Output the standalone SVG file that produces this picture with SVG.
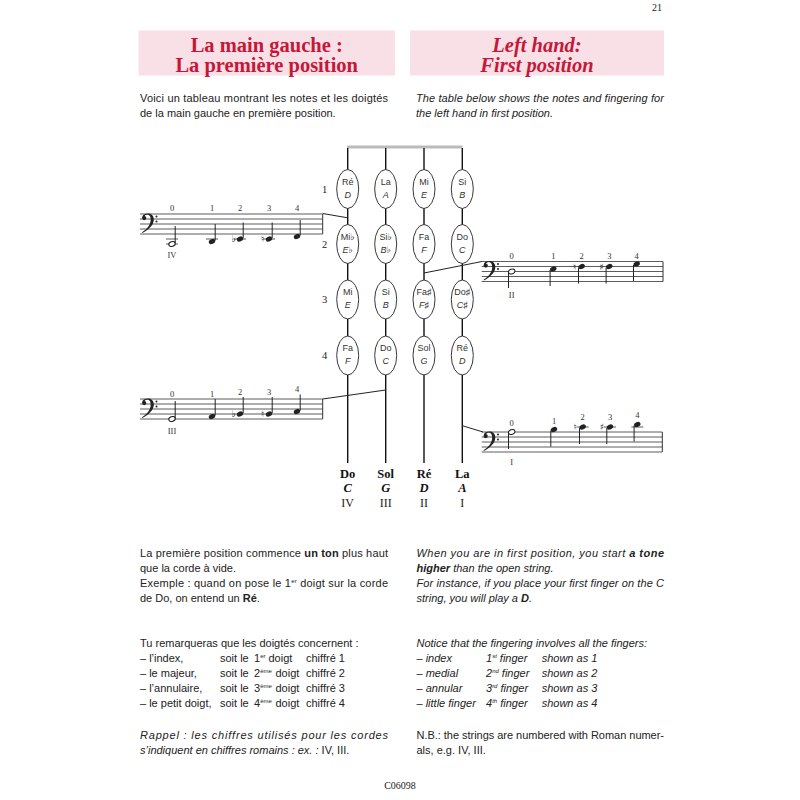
<svg xmlns="http://www.w3.org/2000/svg" xmlns:xlink="http://www.w3.org/1999/xlink" width="800" height="800" viewBox="0 0 800 800">
<style>
.box{fill:#f9e0e6}
.title{font-family:"Liberation Serif",serif;font-weight:bold;font-size:20.5px;fill:#c6173a;text-anchor:middle}
.ti{font-style:italic}
.body{font-family:"Liberation Sans","DejaVu Sans",sans-serif;font-size:11px;fill:#222}
.it{font-style:italic}
.b{font-weight:bold}
.sup{font-size:6px}
.serif{font-family:"Liberation Serif","DejaVu Serif",serif;fill:#222}
.num{font-family:"Liberation Serif",serif;font-size:8.5px;fill:#333;text-anchor:middle}
.rom{font-family:"Liberation Serif",serif;font-size:8.5px;fill:#333;text-anchor:middle}
.staff line{stroke:#333;stroke-width:0.8}
.bar{stroke:#333;stroke-width:1}
.stem{stroke:#222;stroke-width:1}
.ledger{stroke:#333;stroke-width:0.8}
.head{fill:#222}
.half{fill:#fff;stroke:#222;stroke-width:1.1}
.acc{font-family:"DejaVu Sans",sans-serif;font-size:9px;fill:#222;text-anchor:middle}
.string{stroke:#111;stroke-width:1.4}
.oval{fill:#fff;stroke:#222;stroke-width:0.9}
.fr{font-family:"Liberation Sans","DejaVu Sans",sans-serif;font-size:9px;fill:#333;text-anchor:middle}
.en{font-family:"Liberation Sans","DejaVu Sans",sans-serif;font-size:9px;font-style:italic;fill:#333;text-anchor:middle}
.row{font-family:"Liberation Serif",serif;font-size:10.5px;fill:#222;text-anchor:middle}
.sname{font-family:"Liberation Serif",serif;font-size:12.5px;font-weight:bold;fill:#111;text-anchor:middle}
.conn{stroke:#222;stroke-width:1;fill:none}
</style>
<defs>
<g id="bass">
<path d="M3.2,5.6 C0.4,5.6 0.2,1.8 2.5,0.5 C4,-0.5 6,-0.8 7.5,-0.5 C11,0.2 12.5,3 12.3,6 C12,11 7.5,15.5 0.8,19 L0.5,18.3 C5.5,15 9.2,11 9.2,5.5 C9.2,2.5 8,0.4 6,0.4 C4.5,0.4 3.3,1.3 3,2.5 Z" fill="#222"/>
<circle cx="2.7" cy="4.1" r="2.1" fill="#222"/>
<circle cx="15" cy="2.5" r="1" fill="#222"/>
<circle cx="15" cy="7.5" r="1" fill="#222"/>
</g>
<ellipse id="nh" cx="0" cy="0" rx="3.3" ry="2.4" transform="rotate(-20)"/>
</defs>
<rect width="800" height="800" fill="#fff"/>

<text x="657" y="11" class="serif" font-size="10" text-anchor="middle">21</text>

<g id="header-fr">
<rect class="box" x="138.5" y="30.5" width="256.5" height="45"/>
<text class="title" x="266.7" y="52">La main gauche :</text>
<text class="title" x="266.7" y="72">La première position</text>
</g>
<g id="header-en">
<rect class="box" x="410" y="30.5" width="254" height="45"/>
<text class="title ti" x="537" y="52">Left hand:</text>
<text class="title ti" x="537" y="72">First position</text>
</g>

<g id="intro-fr" class="body">
<text x="140" y="101.5" textLength="248" lengthAdjust="spacing">Voici un tableau montrant les notes et les doigtés</text>
<text x="140" y="116.5">de la main gauche en première position.</text>
</g>
<g id="intro-en" class="body it">
<text x="416" y="101.5" textLength="248" lengthAdjust="spacing">The table below shows the notes and fingering for</text>
<text x="416" y="116.5">the left hand in first position.</text>
</g>

<g id="fingerboard">
<rect x="347" y="145.5" width="115.5" height="3" fill="#bbb"/>
<g id="strings">
<line class="string" x1="347.7" y1="148" x2="347.7" y2="463"/>
<line class="string" x1="385.7" y1="148" x2="385.7" y2="463"/>
<line class="string" x1="424" y1="148" x2="424" y2="463"/>
<line class="string" x1="462.3" y1="148" x2="462.3" y2="463"/>
</g>
<g id="row-labels">
<text class="row" x="324.5" y="192.5">1</text>
<text class="row" x="324.5" y="247.5">2</text>
<text class="row" x="324.5" y="303">3</text>
<text class="row" x="324.5" y="359">4</text>
</g>
<g id="r1c1"><ellipse class="oval" cx="347.7" cy="189" rx="11" ry="19.5"/><text class="fr" x="347.7" y="184.5">Ré</text><text class="en" x="347.7" y="197.5">D</text></g>
<g id="r1c2"><ellipse class="oval" cx="385.7" cy="189" rx="11" ry="19.5"/><text class="fr" x="385.7" y="184.5">La</text><text class="en" x="385.7" y="197.5">A</text></g>
<g id="r1c3"><ellipse class="oval" cx="424" cy="189" rx="11" ry="19.5"/><text class="fr" x="424" y="184.5">Mi</text><text class="en" x="424" y="197.5">E</text></g>
<g id="r1c4"><ellipse class="oval" cx="462.3" cy="189" rx="11" ry="19.5"/><text class="fr" x="462.3" y="184.5">Si</text><text class="en" x="462.3" y="197.5">B</text></g>

<g id="r2c1"><ellipse class="oval" cx="347.7" cy="244" rx="11" ry="19.5"/><text class="fr" x="347.7" y="239.5">Mi♭</text><text class="en" x="347.7" y="252.5">E♭</text></g>
<g id="r2c2"><ellipse class="oval" cx="385.7" cy="244" rx="11" ry="19.5"/><text class="fr" x="385.7" y="239.5">Si♭</text><text class="en" x="385.7" y="252.5">B♭</text></g>
<g id="r2c3"><ellipse class="oval" cx="424" cy="244" rx="11" ry="19.5"/><text class="fr" x="424" y="239.5">Fa</text><text class="en" x="424" y="252.5">F</text></g>
<g id="r2c4"><ellipse class="oval" cx="462.3" cy="244" rx="11" ry="19.5"/><text class="fr" x="462.3" y="239.5">Do</text><text class="en" x="462.3" y="252.5">C</text></g>

<g id="r3c1"><ellipse class="oval" cx="347.7" cy="299.5" rx="11" ry="19.5"/><text class="fr" x="347.7" y="295">Mi</text><text class="en" x="347.7" y="308">E</text></g>
<g id="r3c2"><ellipse class="oval" cx="385.7" cy="299.5" rx="11" ry="19.5"/><text class="fr" x="385.7" y="295">Si</text><text class="en" x="385.7" y="308">B</text></g>
<g id="r3c3"><ellipse class="oval" cx="424" cy="299.5" rx="11" ry="19.5"/><text class="fr" x="424" y="295">Fa♯</text><text class="en" x="424" y="308">F♯</text></g>
<g id="r3c4"><ellipse class="oval" cx="462.3" cy="299.5" rx="11" ry="19.5"/><text class="fr" x="462.3" y="295">Do♯</text><text class="en" x="462.3" y="308">C♯</text></g>

<g id="r4c1"><ellipse class="oval" cx="347.7" cy="355.5" rx="11" ry="19.5"/><text class="fr" x="347.7" y="351">Fa</text><text class="en" x="347.7" y="364">F</text></g>
<g id="r4c2"><ellipse class="oval" cx="385.7" cy="355.5" rx="11" ry="19.5"/><text class="fr" x="385.7" y="351">Do</text><text class="en" x="385.7" y="364">C</text></g>
<g id="r4c3"><ellipse class="oval" cx="424" cy="355.5" rx="11" ry="19.5"/><text class="fr" x="424" y="351">Sol</text><text class="en" x="424" y="364">G</text></g>
<g id="r4c4"><ellipse class="oval" cx="462.3" cy="355.5" rx="11" ry="19.5"/><text class="fr" x="462.3" y="351">Ré</text><text class="en" x="462.3" y="364">D</text></g>

<g id="string-names">
<text class="sname" x="347.7" y="478">Do</text>
<text class="sname" x="385.7" y="478">Sol</text>
<text class="sname" x="424" y="478">Ré</text>
<text class="sname" x="462.3" y="478">La</text>
<text class="sname" x="347.7" y="492" font-style="italic">C</text>
<text class="sname" x="385.7" y="492" font-style="italic">G</text>
<text class="sname" x="424" y="492" font-style="italic">D</text>
<text class="sname" x="462.3" y="492" font-style="italic">A</text>
<text class="serif" x="347.7" y="506.5" font-size="12" text-anchor="middle">IV</text>
<text class="serif" x="385.7" y="506.5" font-size="12" text-anchor="middle">III</text>
<text class="serif" x="424" y="506.5" font-size="12" text-anchor="middle">II</text>
<text class="serif" x="462.3" y="506.5" font-size="12" text-anchor="middle">I</text>
</g>
</g>

<g id="connectors">
<line class="conn" x1="322.7" y1="213.5" x2="347.7" y2="217.8"/>
<line class="conn" x1="322.7" y1="399" x2="385.7" y2="390"/>
<line class="conn" x1="424" y1="273" x2="482" y2="261.5"/>
<line class="conn" x1="462.3" y1="425.7" x2="483" y2="432"/>
</g>

<g id="staff-IV">
<g class="staff"><line x1="140" y1="214" x2="322.7" y2="214"/><line x1="140" y1="219" x2="322.7" y2="219"/><line x1="140" y1="224" x2="322.7" y2="224"/><line x1="140" y1="229" x2="322.7" y2="229"/><line x1="140" y1="234" x2="322.7" y2="234"/></g>
<line class="bar" x1="322.7" y1="214" x2="322.7" y2="234"/>
<use href="#bass" transform="translate(141.5,214)"/>
<line class="ledger" x1="166" y1="239" x2="178" y2="239"/><line class="ledger" x1="166" y1="244" x2="178" y2="244"/>
<line class="ledger" x1="206" y1="239" x2="218" y2="239"/>
<line class="ledger" x1="234" y1="239" x2="246" y2="239"/>
<line class="ledger" x1="263" y1="239" x2="275" y2="239"/>
<use href="#nh" class="half" transform="translate(172,244)"/><line class="stem" x1="175.2" y1="243" x2="175.2" y2="226"/>
<use href="#nh" class="head" transform="translate(212,241.5)"/><line class="stem" x1="215.2" y1="240.5" x2="215.2" y2="224"/>
<text class="acc" x="233.5" y="241.5">♭</text><use href="#nh" class="head" transform="translate(240,239)"/><line class="stem" x1="243.2" y1="238" x2="243.2" y2="222.5"/>
<text class="acc" x="262.5" y="242">♮</text><use href="#nh" class="head" transform="translate(269,239)"/><line class="stem" x1="272.2" y1="238" x2="272.2" y2="222.5"/>
<use href="#nh" class="head" transform="translate(297,236.5)"/><line class="stem" x1="300.2" y1="235.5" x2="300.2" y2="220"/>
<text class="num" x="172" y="211">0</text><text class="num" x="212" y="211">1</text><text class="num" x="240" y="211">2</text><text class="num" x="269" y="211">3</text><text class="num" x="297" y="211">4</text>
<text class="rom" x="172" y="258">IV</text>
</g>

<g id="staff-III">
<g class="staff"><line x1="140" y1="399" x2="322.7" y2="399"/><line x1="140" y1="404" x2="322.7" y2="404"/><line x1="140" y1="409" x2="322.7" y2="409"/><line x1="140" y1="414" x2="322.7" y2="414"/><line x1="140" y1="419" x2="322.7" y2="419"/></g>
<line class="bar" x1="322.7" y1="399" x2="322.7" y2="419"/>
<use href="#bass" transform="translate(141.5,399)"/>
<use href="#nh" class="half" transform="translate(172,419)"/><line class="stem" x1="175.2" y1="418" x2="175.2" y2="401"/>
<use href="#nh" class="head" transform="translate(212,416.5)"/><line class="stem" x1="215.2" y1="415.5" x2="215.2" y2="399"/>
<text class="acc" x="233.5" y="416.5">♭</text><use href="#nh" class="head" transform="translate(240,414)"/><line class="stem" x1="243.2" y1="413" x2="243.2" y2="397"/>
<text class="acc" x="262.5" y="417">♮</text><use href="#nh" class="head" transform="translate(269,414)"/><line class="stem" x1="272.2" y1="413" x2="272.2" y2="397"/>
<use href="#nh" class="head" transform="translate(297,411.5)"/><line class="stem" x1="300.2" y1="410.5" x2="300.2" y2="394.5"/>
<text class="num" x="172" y="396.5">0</text><text class="num" x="212" y="396.5">1</text><text class="num" x="240" y="394.5">2</text><text class="num" x="269" y="394.5">3</text><text class="num" x="297" y="392">4</text>
<text class="rom" x="172" y="434">III</text>
</g>

<g id="staff-II">
<g class="staff"><line x1="481.7" y1="261.5" x2="663" y2="261.5"/><line x1="481.7" y1="266.5" x2="663" y2="266.5"/><line x1="481.7" y1="271.5" x2="663" y2="271.5"/><line x1="481.7" y1="276.5" x2="663" y2="276.5"/><line x1="481.7" y1="281.5" x2="663" y2="281.5"/></g>
<line class="bar" x1="663" y1="261.5" x2="663" y2="281.5"/>
<use href="#bass" transform="translate(483,261.5)"/>
<use href="#nh" class="half" transform="translate(511.7,271.5)"/><line class="stem" x1="508.5" y1="272.5" x2="508.5" y2="288"/>
<use href="#nh" class="head" transform="translate(553.3,269)"/><line class="stem" x1="550.1" y1="270" x2="550.1" y2="286"/>
<text class="acc" x="574.5" y="269.5">♮</text><use href="#nh" class="head" transform="translate(581.7,266.5)"/><line class="stem" x1="578.5" y1="267.5" x2="578.5" y2="283.5"/>
<text class="acc" x="601.5" y="269.5">♯</text><use href="#nh" class="head" transform="translate(609.3,266.5)"/><line class="stem" x1="606.1" y1="267.5" x2="606.1" y2="283.5"/>
<use href="#nh" class="head" transform="translate(636.7,264)"/><line class="stem" x1="633.5" y1="265" x2="633.5" y2="281"/>
<text class="num" x="511.7" y="259">0</text><text class="num" x="553.3" y="259">1</text><text class="num" x="581.7" y="259">2</text><text class="num" x="609.3" y="259">3</text><text class="num" x="636.7" y="259">4</text>
<text class="rom" x="511.7" y="298">II</text>
</g>

<g id="staff-I">
<g class="staff"><line x1="481.7" y1="432" x2="662.3" y2="432"/><line x1="481.7" y1="437" x2="662.3" y2="437"/><line x1="481.7" y1="442" x2="662.3" y2="442"/><line x1="481.7" y1="447" x2="662.3" y2="447"/><line x1="481.7" y1="452" x2="662.3" y2="452"/></g>
<line class="bar" x1="662.3" y1="432" x2="662.3" y2="452"/>
<use href="#bass" transform="translate(483,432)"/>
<line class="ledger" x1="576.7" y1="427" x2="588.7" y2="427"/>
<line class="ledger" x1="604" y1="427" x2="616" y2="427"/>
<line class="ledger" x1="631.3" y1="427" x2="643.3" y2="427"/>
<use href="#nh" class="half" transform="translate(511.7,432)"/><line class="stem" x1="508.5" y1="433" x2="508.5" y2="449"/>
<use href="#nh" class="head" transform="translate(554,429.5)"/><line class="stem" x1="550.8" y1="430.5" x2="550.8" y2="446.5"/>
<text class="acc" x="575" y="430">♮</text><use href="#nh" class="head" transform="translate(582.7,427)"/><line class="stem" x1="579.5" y1="428" x2="579.5" y2="444"/>
<text class="acc" x="602" y="430">♯</text><use href="#nh" class="head" transform="translate(610,427)"/><line class="stem" x1="606.8" y1="428" x2="606.8" y2="444"/>
<use href="#nh" class="head" transform="translate(637.3,424.5)"/><line class="stem" x1="634.1" y1="425.5" x2="634.1" y2="441.5"/>
<text class="num" x="511.7" y="426">0</text><text class="num" x="554" y="423.5">1</text><text class="num" x="582.7" y="420">2</text><text class="num" x="610" y="420">3</text><text class="num" x="637.3" y="418">4</text>
<text class="rom" x="511.7" y="465">I</text>
</g>

<g id="text-fr" class="body">
<text x="140" y="556.7" textLength="248" lengthAdjust="spacing">La première position commence <tspan class="b">un ton</tspan> plus haut</text>
<text x="140" y="571.7">que la corde à vide.</text>
<text x="140" y="586.7" textLength="248" lengthAdjust="spacing">Exemple : quand on pose le 1<tspan class="sup" dy="-4">er</tspan><tspan dy="4"> doigt sur la corde</tspan></text>
<text x="140" y="602">de Do, on entend un <tspan class="b">Ré</tspan>.</text>
<text x="140" y="647.3">Tu remarqueras que les doigtés concernent :</text>
<text x="140" y="662.3">– l’index,</text>
<text x="140" y="677.3">– le majeur,</text>
<text x="140" y="692.3">– l’annulaire,</text>
<text x="140" y="707.3">– le petit doigt,</text>
<text x="220" y="662.3">soit le</text>
<text x="220" y="677.3">soit le</text>
<text x="220" y="692.3">soit le</text>
<text x="220" y="707.3">soit le</text>
<text x="254" y="662.3">1<tspan class="sup" dy="-4">er</tspan></text>
<text x="254" y="677.3">2<tspan class="sup" dy="-4">ème</tspan></text>
<text x="254" y="692.3">3<tspan class="sup" dy="-4">ème</tspan></text>
<text x="254" y="707.3">4<tspan class="sup" dy="-4">ème</tspan></text>
<text x="268.5" y="662.3">doigt</text>
<text x="275.5" y="677.3">doigt</text>
<text x="275.5" y="692.3">doigt</text>
<text x="275.5" y="707.3">doigt</text>
<text x="306" y="662.3">chiffré 1</text>
<text x="306" y="677.3">chiffré 2</text>
<text x="306" y="692.3">chiffré 3</text>
<text x="306" y="707.3">chiffré 4</text>
<text x="140" y="739" textLength="248" lengthAdjust="spacing"><tspan class="it">Rappel : les chiffres utilisés pour les cordes</tspan></text>
<text x="140" y="754"><tspan class="it">s’indiquent en chiffres romains : ex. : </tspan>IV, III.</text>
</g>

<g id="text-en" class="body">
<text x="416.5" y="556.7" class="it" textLength="247.5" lengthAdjust="spacing">When you are in first position, you start <tspan class="b">a tone</tspan></text>
<text x="416.5" y="571.7" class="it"><tspan class="b">higher</tspan> than the open string.</text>
<text x="416.5" y="586.7" class="it" textLength="247.5" lengthAdjust="spacing">For instance, if you place your first finger on the C</text>
<text x="416.5" y="602" class="it">string, you will play a <tspan class="b">D</tspan>.</text>
<text x="416.5" y="647.3" class="it">Notice that the fingering involves all the fingers:</text>
<text x="416.5" y="662.3" class="it">– index</text>
<text x="416.5" y="677.3" class="it">– medial</text>
<text x="416.5" y="692.3" class="it">– annular</text>
<text x="416.5" y="707.3" class="it">– little finger</text>
<text x="486" y="662.3" class="it">1<tspan class="sup" dy="-4">st</tspan><tspan dy="4"> finger</tspan></text>
<text x="486" y="677.3" class="it">2<tspan class="sup" dy="-4">nd</tspan><tspan dy="4"> finger</tspan></text>
<text x="486" y="692.3" class="it">3<tspan class="sup" dy="-4">rd</tspan><tspan dy="4"> finger</tspan></text>
<text x="486" y="707.3" class="it">4<tspan class="sup" dy="-4">th</tspan><tspan dy="4"> finger</tspan></text>
<text x="541.7" y="662.3" class="it">shown as 1</text>
<text x="541.7" y="677.3" class="it">shown as 2</text>
<text x="541.7" y="692.3" class="it">shown as 3</text>
<text x="541.7" y="707.3" class="it">shown as 4</text>
<text x="416.5" y="739" textLength="247.5" lengthAdjust="spacing">N.B.: the strings are numbered with Roman numer-</text>
<text x="416.5" y="754">als, e.g. IV, III.</text>
</g>

<text x="400" y="789" class="serif" font-size="10" text-anchor="middle">C06098</text>
</svg>
